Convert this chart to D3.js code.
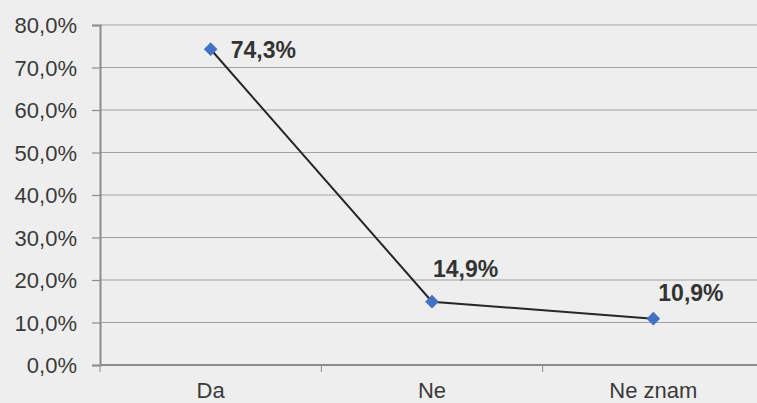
<!DOCTYPE html>
<html><head><meta charset="utf-8">
<script src="https://cdn.jsdelivr.net/npm/d3@7"></script>
<style>body{margin:0;background:#eeeeee;}svg{display:block;font-family:"Liberation Sans",Arial,sans-serif;}</style>
</head><body><svg id="c" width="757" height="403"></svg>
<script>
const categories = ["Da", "Ne", "Ne znam"];
const values = [74.3, 14.9, 10.9];
const yTicks = [0, 10, 20, 30, 40, 50, 60, 70, 80];

(function(){
const svg = d3.select("#c");
svg.append("rect").attr("width",757).attr("height",403).attr("fill","#eeeeee");
const mLeft = 100, mTop = 25, mBottom = 365, mRight = 764;
const x = d3.scaleBand().domain(categories).range([mLeft, mRight]);
const y = d3.scaleLinear().domain([0, 80]).range([mBottom, mTop]);
const fmt = v => v.toFixed(1).replace(".", ",") + "%";

// gridlines
svg.append("g").selectAll("line").data(yTicks.filter(t=>t>0)).join("line")
  .attr("x1", mLeft).attr("x2", mRight).attr("y1", d=>y(d)).attr("y2", d=>y(d))
  .attr("stroke", "#a0a0a0").attr("stroke-width", 1.2);

// y axis
const ya = svg.append("g").attr("transform", `translate(${mLeft},0)`)
  .call(d3.axisLeft(y).tickValues(yTicks).tickFormat(fmt).tickSize(8).tickPadding(15));
ya.select(".domain").attr("stroke", "#8c8c8c").attr("stroke-width", 2);
ya.selectAll(".tick line").attr("stroke", "#8c8c8c").attr("stroke-width", 1.2);
ya.selectAll("text").attr("font-size", 22).attr("fill", "#3a3a3a").attr("font-family","Liberation Sans, Arial, sans-serif").attr("dy","0.36em");

// x axis
const xa = svg.append("g").attr("transform", `translate(0,${mBottom})`)
  .call(d3.axisBottom(x).tickSize(0).tickPadding(17));
xa.select(".domain").remove();
svg.append("line").attr("x1", mLeft).attr("x2", mRight).attr("y1", mBottom).attr("y2", mBottom)
  .attr("stroke", "#8c8c8c").attr("stroke-width", 2);
svg.append("g").selectAll("line").data(categories).join("line")
  .attr("x1", d=>x(d)).attr("x2", d=>x(d)).attr("y1", mBottom).attr("y2", mBottom+7)
  .attr("stroke", "#8c8c8c").attr("stroke-width", 1);
xa.selectAll("text").attr("font-size", 22).attr("fill", "#3a3a3a").attr("font-family","Liberation Sans, Arial, sans-serif");

const cx = d => x(d) + x.bandwidth()/2;
// line
svg.append("path").datum(values)
  .attr("d", d3.line().x((d,i)=>cx(categories[i])).y(d=>y(d)))
  .attr("fill", "none").attr("stroke", "#262626").attr("stroke-width", 2);

// markers
svg.append("g").selectAll("path").data(values).join("path")
  .attr("transform", (d,i)=>`translate(${cx(categories[i])},${y(d)})`)
  .attr("d", d3.symbol().type(d3.symbolDiamond2).size(120))
  .attr("fill", "#4472c4");

// labels
const off = [[20, 9], [1, -25], [5, -18]];
svg.append("g").selectAll("text").data(values).join("text")
  .attr("x", (d,i)=>cx(categories[i]) + off[i][0])
  .attr("y", (d,i)=>y(d) + off[i][1])
  .attr("font-size", 23).attr("font-weight", "bold").attr("fill", "#333")
  .text(d=>fmt(d));
})();
</script></body></html>
